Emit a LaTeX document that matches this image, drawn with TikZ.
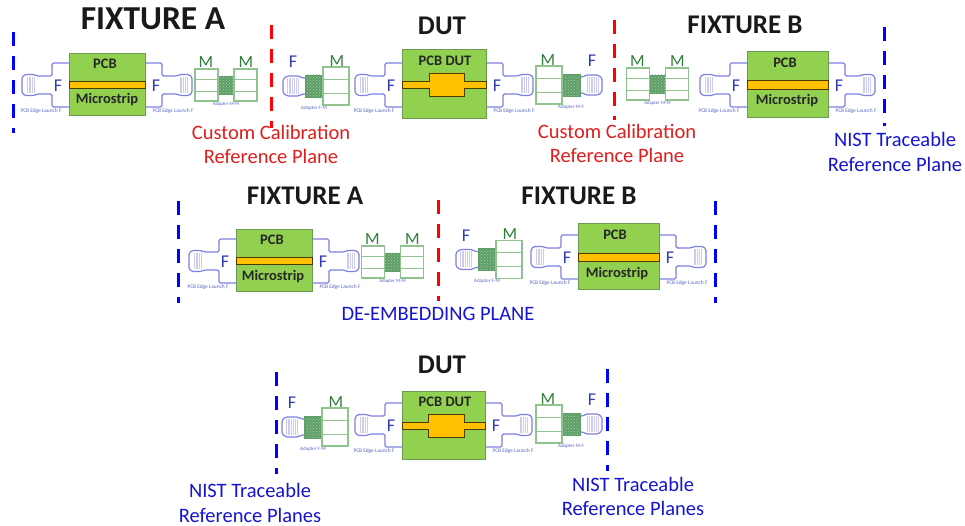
\documentclass[tikz,border=0pt]{standalone}
\usepackage{fontspec}
\setmainfont{Carlito}
\usetikzlibrary{patterns}
\definecolor{fxblue}{HTML}{7F7FE2}
\definecolor{fxink}{HTML}{2F3DB5}
\definecolor{fxgreen}{HTML}{92D050}
\definecolor{fxedge}{HTML}{6E9A55}
\definecolor{fxgold}{HTML}{FFC000}
\definecolor{fxmale}{HTML}{8FC48F}
\definecolor{fxmesh}{HTML}{5E9F66}
\definecolor{fxmink}{HTML}{2E7D3A}
\definecolor{fxtext}{HTML}{1414D2}
\definecolor{fxred}{HTML}{E01E1E}
\tikzset{
  shell/.style={draw=fxblue, line width=1.2pt, fill=white, rounded corners=1.5pt},
  thread/.style={draw=fxblue!40, line width=.3pt},
  maleblock/.style={draw=fxmale, line width=1.2pt, fill=white},
  meshblock/.style={draw=fxmesh, line width=.4pt, preaction={fill=fxmesh}, pattern=crosshatch dots, pattern color=white!45!fxmesh},
  flbl/.style={font=\fontsize{18}{18}\selectfont, color=fxink, inner sep=0pt},
  mlbl/.style={font=\fontsize{17}{17}\selectfont, color=fxmink, inner sep=0pt},
  caplbl/.style={font=\fontsize{5.4}{6}\selectfont, color=fxink!80, inner sep=0pt},
  pics/launch/.style={code={
    \draw[shell] (0,-22) -- (-17,-22) -- (-17,-9) -- (-32,-9) -- (-35,-10.5) -- (-44,-10.5) -- (-47,-8)
      -- (-47,8) -- (-44,10.5) -- (-35,10.5) -- (-32,9) -- (-17,9) -- (-17,22) -- (0,22);
    \foreach \tx in {-42,-40.2,...,-33} \draw[thread] (\tx,-8) -- (\tx,8);
    \node[flbl] (flabel) at (-11,1) {F};
    \node[caplbl] (caption) at (-28,26) {PCB Edge Launch F};
  }},
  pics/adaptermm/.style={code={
    \draw[meshblock] (-9,-9) rectangle (9,9);
    \foreach \side in {-1,1} {
      \draw[maleblock] (\side*8,-16) rectangle (\side*31,16);
      \draw[draw=fxmale, line width=.8pt] (\side*8,-6) -- (\side*31,-6) (\side*8,6) -- (\side*31,6);
      \node[mlbl] at (\side*20,-23) {M};
    }
    \node[caplbl, font=\fontsize{4.8}{5}\selectfont] at (0,19) {Adapter M-M};
  }},
  pics/adapterfm/.style={code={
    \draw[shell] (-9,-8) -- (-12,-8) -- (-15,-10) -- (-27,-10) -- (-31,-7) -- (-31,7) -- (-27,10) -- (-15,10) -- (-12,8) -- (-9,8);
    \foreach \tx in {-27,-25.2,...,-15} \draw[thread] (\tx,-8) -- (\tx,8);
    \draw[meshblock] (-9,-11) rectangle (9,11);
    \draw[maleblock] (9,-19) rectangle (35,19);
    \draw[draw=fxmale, line width=.8pt] (9,-7) -- (35,-7) (9,7) -- (35,7);
    \node[flbl] at (-21,-24) {F};
    \node[mlbl] at (23,-25) {M};
    \node[caplbl, font=\fontsize{5}{5}\selectfont] at (0,22) {#1};
  }}
}
\begin{document}
\begin{tikzpicture}[x=1pt, y=-1pt,
          pcbbox/.style={draw=fxedge, line width=.8pt, fill=fxgreen, inner sep=0pt},
          stripbar/.style={draw=black!70!fxgold, line width=.6pt, fill=fxgold},
          pcblbl/.style={font=\fontsize{14.5}{15}\selectfont\bfseries, color=black!85, inner sep=0pt},
          ttl/.style={font=\fontsize{27}{27}\selectfont\bfseries, color=black!90, inner sep=0pt},
          plane/.style={line width=3pt, dash pattern=on 14pt off 10pt},
          note/.style={font=\fontsize{20.5}{24.5}\selectfont, align=center, inner sep=0pt}]
  \useasboundingbox (0,0) rectangle (965,526);
  % top row
  \node[ttl, font=\fontsize{33.5}{33.5}\selectfont\bfseries] (ttlA) at (153,19) {FIXTURE A};
  \node[ttl] (ttlD) at (442,26) {DUT};
  \node[ttl] (ttlB) at (745,25) {FIXTURE B};
  \draw[plane, blue] (13,32) -- (13,133);
  \draw[plane, red] (271,25) -- (271,128);
  \draw[plane, red] (614,20) -- (614,120);
  \draw[plane, blue] (884,27) -- (884,126);
  \pic at (69,85) {launch};
  \pic[xscale=-1] at (145,85) {launch};
  \node[pcbbox, minimum width=76pt, minimum height=62pt] (pcbA) at (107,84) {};
  \draw[stripbar] (69,81) rectangle (145,88);
  \node[pcblbl] (pcbAt) at (105,64) {PCB};
  \node[pcblbl] (pcbAb) at (107,100) {Microstrip};
  \pic at (226,85) {adaptermm};
  \pic at (314,86) {adapterfm={Adapter F-M}};
  \pic at (402,85) {launch};
  \pic[xscale=-1] at (486,85) {launch};
  \node[pcbbox, minimum width=84pt, minimum height=69pt] (pcbD) at (444,83.5) {};
  \draw[stripbar] (402,81) -- (429,81) -- (429,73) -- (464,73) -- (464,81) -- (486,81) -- (486,88) -- (464,88) -- (464,96) -- (429,96) -- (429,88) -- (402,88) -- cycle;
  \node[pcblbl] (pcbDt) at (445,61) {PCB DUT};
  \pic[xscale=-1] at (571,85) {adapterfm={Adapter M-F}};
  \pic at (657.5,84) {adaptermm};
  \pic at (747,85) {launch};
  \pic[xscale=-1] at (828,85) {launch};
  \node[pcbbox, minimum width=81pt, minimum height=66pt] (pcbB) at (787.5,84) {};
  \draw[stripbar] (747,80) rectangle (828,89);
  \node[pcblbl] (pcbBt) at (785,63) {PCB};
  \node[pcblbl] (pcbBb) at (787,101) {Microstrip};
  \node[note, fxred] (calL) at (271,144.5) {Custom Calibration\\Reference Plane};
  \node[note, fxred] (calR) at (617,143.5) {Custom Calibration\\Reference Plane};
  \node[note, fxtext] (nistT) at (895,152) {NIST Traceable\\Reference Plane};
  % second row
  \node[ttl] (ttlA2) at (305,196) {FIXTURE A};
  \node[ttl] (ttlB2) at (579,196) {FIXTURE B};
  \draw[plane, blue] (178,201) -- (178,303);
  \draw[plane, red] (438,200) -- (438,301);
  \draw[plane, blue] (715,201) -- (715,303);
  \pic at (236,261) {launch};
  \pic[xscale=-1] at (312,261) {launch};
  \node[pcbbox, minimum width=76pt, minimum height=62pt] (pcbA2) at (274,260) {};
  \draw[stripbar] (236,257) rectangle (312,264);
  \node[pcblbl] (pcbA2t) at (272,240) {PCB};
  \node[pcblbl] (pcbA2b) at (273,277) {Microstrip};
  \pic at (392.5,262) {adaptermm};
  \pic at (487,259.5) {adapterfm={Adapter F-M}};
  \pic at (578,257) {launch};
  \pic[xscale=-1] at (659,257) {launch};
  \node[pcbbox, minimum width=81pt, minimum height=66pt] (pcbB2) at (618.5,256) {};
  \draw[stripbar] (578,253) rectangle (659,261);
  \node[pcblbl] (pcbB2t) at (615,235) {PCB};
  \node[pcblbl] (pcbB2b) at (617,274) {Microstrip};
  \node[note, fxtext] (deemb) at (438,314) {DE-EMBEDDING PLANE};
  % third row
  \node[ttl] (ttlD3) at (442,365) {DUT};
  \draw[plane, blue] (276,372) -- (276,474);
  \draw[plane, blue] (607,369) -- (607,471);
  \pic at (313,427) {adapterfm={Adapter F-M}};
  \pic at (402,425) {launch};
  \pic[xscale=-1] at (485,425) {launch};
  \node[pcbbox, minimum width=83pt, minimum height=68pt] (pcbD3) at (443.5,425) {};
  \draw[stripbar] (402,422) -- (428,422) -- (428,414) -- (464,414) -- (464,422) -- (485,422) -- (485,429) -- (464,429) -- (464,437) -- (428,437) -- (428,429) -- (402,429) -- cycle;
  \node[pcblbl] (pcbD3t) at (445,402) {PCB DUT};
  \pic[xscale=-1] at (571,424) {adapterfm={Adapter M-F}};
  \node[note, fxtext] (nistL) at (250,503) {NIST Traceable\\Reference Planes};
  \node[note, fxtext] (nistR) at (633,496.5) {NIST Traceable\\Reference Planes};
\end{tikzpicture}
\end{document}
